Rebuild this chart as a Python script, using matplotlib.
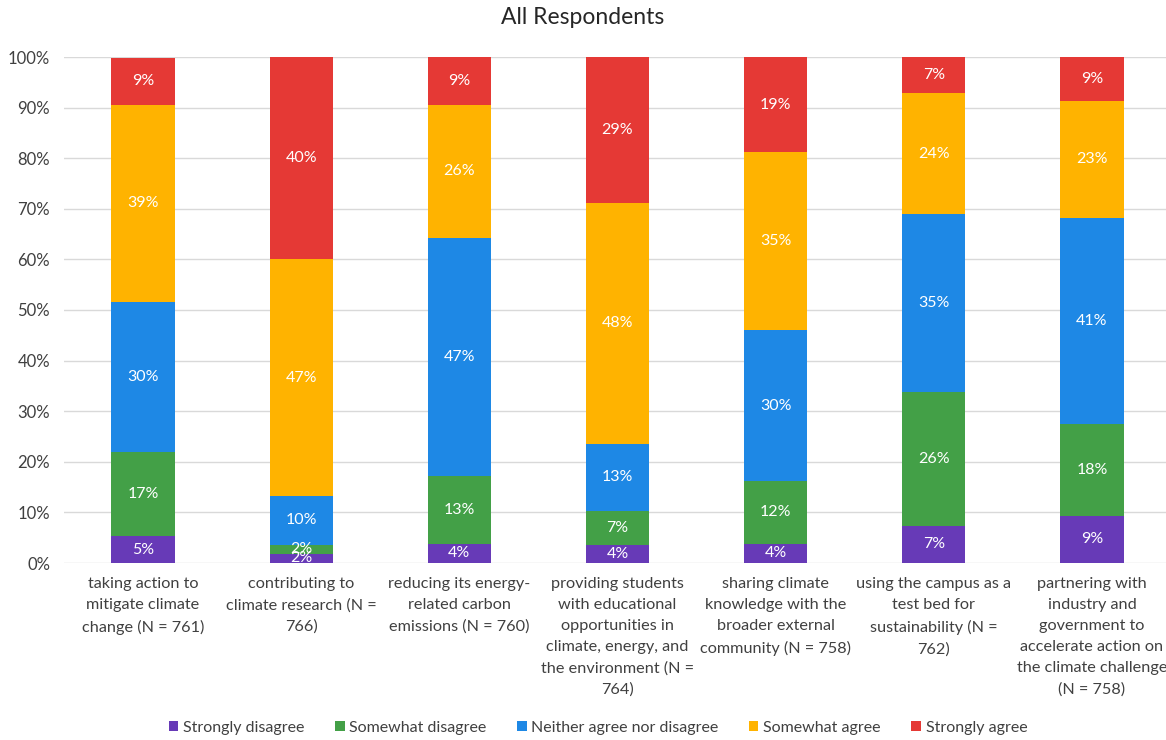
import matplotlib
matplotlib.use("Agg")
import matplotlib.pyplot as plt
import numpy as np

plt.rcParams['font.family'] = ['Lato', 'DejaVu Sans']

categories = [
    "taking action to\nmitigate climate\nchange (N = 761)",
    "contributing to\nclimate research (N =\n766)",
    "reducing its energy-\nrelated carbon\nemissions (N = 760)",
    "providing students\nwith educational\nopportunities in\nclimate, energy, and\nthe environment (N =\n764)",
    "sharing climate\nknowledge with the\nbroader external\ncommunity (N = 758)",
    "using the campus as a\ntest bed for\nsustainability (N =\n762)",
    "partnering with\nindustry and\ngovernment to\naccelerate action on\nthe climate challenge\n(N = 758)",
]
series_names = ["Strongly disagree", "Somewhat disagree", "Neither agree nor disagree",
                "Somewhat agree", "Strongly agree"]
strongly_disagree = [5.3, 1.8, 3.8, 3.6, 3.8, 7.4, 9.3]
somewhat_disagree = [16.6, 1.8, 13.4, 6.6, 12.4, 26.3, 18.2]
neither = [29.7, 9.6, 47.0, 13.4, 29.8, 35.2, 40.6]
somewhat_agree = [38.9, 46.9, 26.4, 47.6, 35.2, 23.9, 23.3]
strongly_agree = [9.4, 39.9, 9.4, 28.8, 18.8, 7.2, 8.6]
colors = ['#673AB7', '#43A047', '#1E88E5', '#FFB300', '#E53935']

fig = plt.figure(figsize=(11.66, 7.40), dpi=100)
ax = fig.add_axes([64/1166, 1-563/740, (1171-64)/1166, 506/740])

series = [strongly_disagree, somewhat_disagree, neither, somewhat_agree, strongly_agree]
x = np.arange(len(categories))
bottom = np.zeros(len(categories))
for vals, col, name in zip(series, colors, series_names):
    vals = np.array(vals)
    ax.bar(x, vals, 0.4, bottom=bottom, color=col, label=name, zorder=3)
    for xi, b, v in zip(x, bottom, vals):
        ax.text(xi, b + v/2, f"{v:.0f}%", ha='center', va='center', color='white',
                fontsize=11.5, zorder=4)
    bottom += vals

ax.set_ylim(0, 100)
ax.set_xlim(-0.5, len(categories) - 0.5)
ax.set_yticks(np.arange(0, 101, 10))
ax.set_yticklabels([f"{v}%" for v in range(0, 101, 10)], fontsize=12, color='#404040')
ax.set_xticks(x)
ax.set_xticklabels(categories, fontsize=11.7, color='#404040', linespacing=1.64, va='top')
ax.tick_params(axis='both', length=0)
ax.tick_params(axis='x', pad=10)
ax.tick_params(axis='y', pad=10)
ax.yaxis.grid(True, color='#d9d9d9', linewidth=1, zorder=0)
for s in ax.spines.values():
    s.set_visible(False)

fig.text(583/1166, 1-18/740, "All Respondents", ha='center', va='center', fontsize=16.5, color='#262626')

handles, labels = ax.get_legend_handles_labels()
fig.legend(handles, labels, loc='center', bbox_to_anchor=(598/1166, 1-728/740), ncol=5,
           frameon=False, fontsize=11.5, handlelength=0.6, handleheight=0.6,
           handletextpad=0.3, columnspacing=1.9, labelcolor='#404040')

fig.savefig("out.png", dpi=100)
